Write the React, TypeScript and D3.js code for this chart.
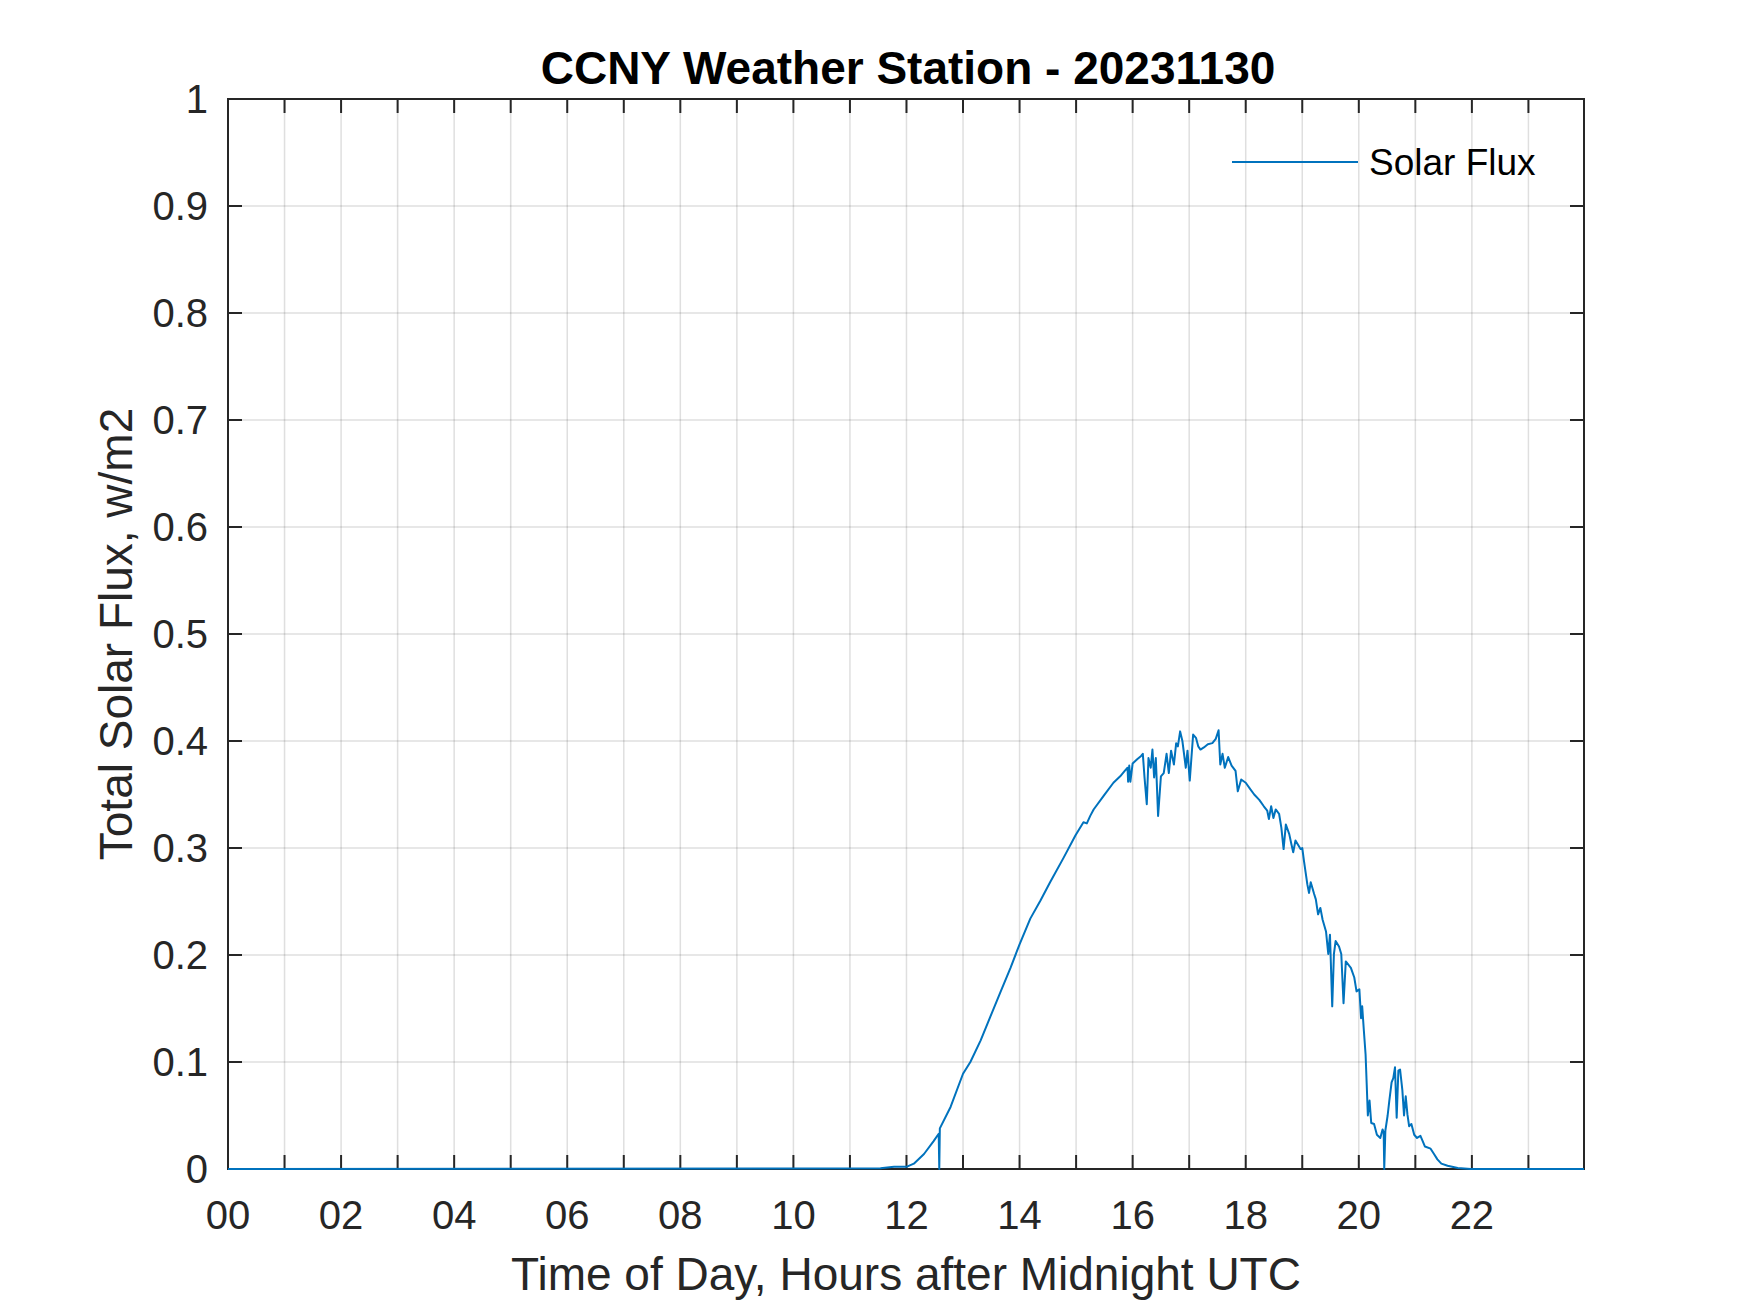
import * as d3 from 'd3'
import React, { useRef, useEffect } from 'react'

// hours after midnight UTC
const hours = [
  0, 11.54, 11.78, 12.0, 12.13, 12.31, 12.48, 12.57, 12.58, 12.59, 12.78, 13.0, 13.13, 13.31, 13.48,
  13.66, 13.84, 14.0, 14.19, 14.37, 14.54, 14.78, 14.99, 15.13, 15.19, 15.25, 15.31, 15.49, 15.66,
  15.78, 15.86, 15.91, 15.92, 15.94, 15.96, 16.0, 16.08, 16.15, 16.18, 16.21, 16.25, 16.28, 16.32,
  16.35, 16.38, 16.41, 16.45, 16.5, 16.55, 16.6, 16.64, 16.68, 16.73, 16.77, 16.8, 16.84, 16.88,
  16.94, 16.97, 17.01, 17.07, 17.12, 17.16, 17.2, 17.26, 17.33, 17.41, 17.47, 17.52, 17.55, 17.59,
  17.63, 17.69, 17.75, 17.82, 17.86, 17.92, 18.0, 18.08, 18.15, 18.24, 18.32, 18.38, 18.41, 18.45,
  18.49, 18.53, 18.59, 18.63, 18.67, 18.71, 18.77, 18.81, 18.84, 18.88, 18.97, 19.0, 19.03, 19.06,
  19.09, 19.12, 19.15, 19.21, 19.24, 19.28, 19.32, 19.36, 19.42, 19.46, 19.49, 19.53, 19.56, 19.59,
  19.65, 19.69, 19.73, 19.77, 19.86, 19.92, 19.96, 20.01, 20.04, 20.06, 20.09, 20.12, 20.14, 20.16,
  20.19, 20.22, 20.27, 20.32, 20.38, 20.42, 20.44, 20.45, 20.47, 20.51, 20.54, 20.58, 20.61, 20.64,
  20.67, 20.7, 20.73, 20.77, 20.8, 20.83, 20.86, 20.89, 20.93, 20.98, 21.03, 21.09, 21.13, 21.17,
  21.27, 21.33, 21.39, 21.46, 21.57, 21.75, 21.98, 23.983,
]

// total solar flux, w/m2
const flux = [
  0, 0.0006, 0.002, 0.002, 0.005, 0.014, 0.026, 0.033, 0, 0.038, 0.058, 0.089, 0.1, 0.12, 0.142,
  0.165, 0.188, 0.21, 0.234, 0.251, 0.268, 0.291, 0.312, 0.324, 0.323, 0.33, 0.336, 0.349, 0.361,
  0.367, 0.372, 0.375, 0.362, 0.377, 0.362, 0.379, 0.383, 0.386, 0.388, 0.366, 0.341, 0.384, 0.375,
  0.392, 0.366, 0.384, 0.33, 0.367, 0.37, 0.388, 0.37, 0.391, 0.378, 0.398, 0.395, 0.409, 0.4,
  0.375, 0.391, 0.363, 0.406, 0.403, 0.395, 0.392, 0.394, 0.397, 0.398, 0.402, 0.41, 0.378, 0.388,
  0.375, 0.385, 0.377, 0.372, 0.353, 0.364, 0.361, 0.355, 0.35, 0.345, 0.339, 0.335, 0.327, 0.339,
  0.328, 0.336, 0.332, 0.319, 0.299, 0.322, 0.313, 0.303, 0.296, 0.307, 0.299, 0.3, 0.288, 0.277,
  0.266, 0.258, 0.268, 0.257, 0.252, 0.238, 0.244, 0.233, 0.222, 0.201, 0.219, 0.152, 0.201, 0.213,
  0.208, 0.201, 0.155, 0.194, 0.188, 0.179, 0.166, 0.168, 0.141, 0.152, 0.129, 0.107, 0.079, 0.05,
  0.064, 0.043, 0.042, 0.032, 0.029, 0.037, 0.034, 0, 0.036, 0.05, 0.064, 0.081, 0.085, 0.095,
  0.048, 0.092, 0.093, 0.074, 0.05, 0.068, 0.051, 0.04, 0.042, 0.032, 0.029, 0.031, 0.026, 0.021,
  0.019, 0.014, 0.009, 0.005, 0.003, 0.001, 0, 0,
]

const xTicks = d3.range(0, 24)
const xTickLabels = xTicks.map(h => (h % 2 === 0 ? String(h).padStart(2, '0') : ''))
const yTicks = [0, 0.1, 0.2, 0.3, 0.4, 0.5, 0.6, 0.7, 0.8, 0.9, 1]
const yTickLabels = ['0', '0.1', '0.2', '0.3', '0.4', '0.5', '0.6', '0.7', '0.8', '0.9', '1']

const FONT = '"Liberation Sans", Arial, Helvetica, sans-serif'
const AXIS_COLOR = '#262626'
const LINE_COLOR = '#0072BD'

const App = () => {
  const d3Container = useRef<SVGSVGElement | null>(null)

  useEffect(() => {
    const svg = d3.select(d3Container.current)
    svg.selectAll('*').remove()

    const left = 228
    const right = 1584
    const top = 99
    const bottom = 1169
    const tickLen = 14

    const x = d3.scaleLinear().domain([0, 23.983]).range([left, right])
    const y = d3.scaleLinear().domain([0, 1]).range([bottom, top])

    svg.append('rect')
      .attr('width', 1750).attr('height', 1313)
      .attr('fill', '#fff')

    // grid
    const grid = svg.append('g')
      .attr('stroke', AXIS_COLOR)
      .attr('stroke-opacity', 0.15)
      .attr('stroke-width', 1.5)
    xTicks.forEach(t => {
      grid.append('line')
        .attr('x1', x(t)).attr('x2', x(t))
        .attr('y1', top).attr('y2', bottom)
    })
    yTicks.forEach(t => {
      grid.append('line')
        .attr('x1', left).attr('x2', right)
        .attr('y1', y(t)).attr('y2', y(t))
    })

    // ticks, pointing inward on all four sides
    const ticks = svg.append('g')
      .attr('stroke', AXIS_COLOR)
      .attr('stroke-width', 2)
    xTicks.forEach(t => {
      ticks.append('line').attr('x1', x(t)).attr('x2', x(t)).attr('y1', bottom).attr('y2', bottom - tickLen)
      ticks.append('line').attr('x1', x(t)).attr('x2', x(t)).attr('y1', top).attr('y2', top + tickLen)
    })
    yTicks.forEach(t => {
      ticks.append('line').attr('x1', left).attr('x2', left + tickLen).attr('y1', y(t)).attr('y2', y(t))
      ticks.append('line').attr('x1', right).attr('x2', right - tickLen).attr('y1', y(t)).attr('y2', y(t))
    })

    // box
    svg.append('rect')
      .attr('x', left).attr('y', top)
      .attr('width', right - left).attr('height', bottom - top)
      .attr('fill', 'none')
      .attr('stroke', AXIS_COLOR)
      .attr('stroke-width', 2)

    // tick labels
    xTicks.forEach((t, i) => {
      if (!xTickLabels[i]) return
      svg.append('text')
        .attr('x', x(t))
        .attr('y', 1229)
        .attr('text-anchor', 'middle')
        .attr('fill', AXIS_COLOR)
        .style('font-family', FONT)
        .style('font-size', '40px')
        .text(xTickLabels[i])
    })
    yTicks.forEach((t, i) => {
      svg.append('text')
        .attr('x', 208)
        .attr('y', y(t))
        .attr('dy', '0.36em')
        .attr('text-anchor', 'end')
        .attr('fill', AXIS_COLOR)
        .style('font-family', FONT)
        .style('font-size', '40px')
        .text(yTickLabels[i])
    })

    // the series
    const line = d3.line<number>()
      .x((d, i) => x(hours[i]))
      .y(d => y(d))
    svg.append('path')
      .datum(flux)
      .attr('d', line)
      .attr('fill', 'none')
      .attr('stroke', LINE_COLOR)
      .attr('stroke-width', 2)
      .attr('stroke-linejoin', 'round')

    // title and axis labels
    svg.append('text')
      .attr('x', 908)
      .attr('y', 84)
      .attr('text-anchor', 'middle')
      .attr('fill', '#000')
      .style('font-family', FONT)
      .style('font-size', '46px')
      .style('font-weight', 'bold')
      .text('CCNY Weather Station - 20231130')

    svg.append('text')
      .attr('x', (left + right) / 2)
      .attr('y', 1290)
      .attr('text-anchor', 'middle')
      .attr('fill', AXIS_COLOR)
      .style('font-family', FONT)
      .style('font-size', '46px')
      .text('Time of Day, Hours after Midnight UTC')

    svg.append('text')
      .attr('transform', `translate(132, ${(top + bottom) / 2}) rotate(-90)`)
      .attr('text-anchor', 'middle')
      .attr('fill', AXIS_COLOR)
      .style('font-family', FONT)
      .style('font-size', '46px')
      .text('Total Solar Flux, w/m2')

    // legend (no box)
    svg.append('line')
      .attr('x1', 1232).attr('x2', 1358)
      .attr('y1', 162).attr('y2', 162)
      .attr('stroke', LINE_COLOR)
      .attr('stroke-width', 2)
    svg.append('text')
      .attr('x', 1369)
      .attr('y', 162)
      .attr('dy', '0.36em')
      .attr('fill', '#000')
      .style('font-family', FONT)
      .style('font-size', '37px')
      .text('Solar Flux')
  }, [])

  return (
    <svg
      ref={ d3Container }
      width={ 1750 }
      height={ 1313 }
      style={{ position: 'absolute', left: 0, top: 0 }}
    />
  )
}

export default App
